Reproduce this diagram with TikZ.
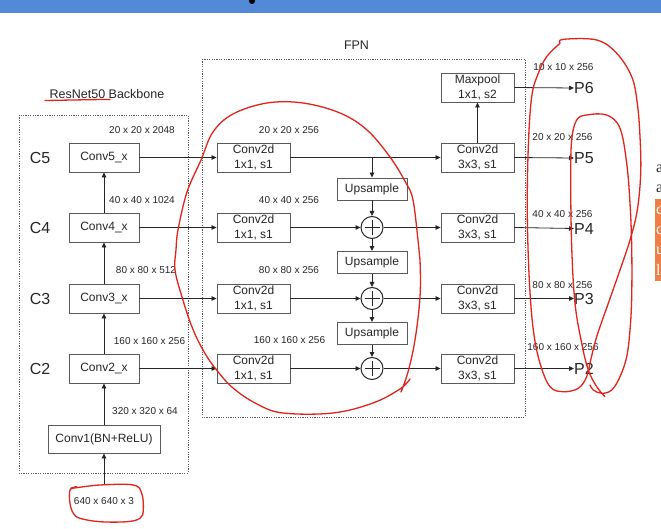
\documentclass[tikz,border=0pt]{standalone}
\usepackage{fontspec}
\setmainfont{Liberation Sans}
\newfontfamily\serifface{Liberation Serif}
\usetikzlibrary{arrows.meta}

\definecolor{barblue}{HTML}{528AD8}
\definecolor{ink}{HTML}{262626}
\definecolor{edge}{HTML}{5A5A5A}
\definecolor{penred}{HTML}{E3231C}
\definecolor{tagorange}{HTML}{EE8047}

\begin{document}
\begin{tikzpicture}[x=1pt,y=-1pt,
  box/.style={draw=edge, line width=0.9pt, fill=white, text=ink,
    font=\fontsize{12}{15}\selectfont, align=center, inner sep=0pt},
  convbox/.style={box, minimum width=70pt, minimum height=29pt},
  fpnbox/.style={box, minimum width=73pt, minimum height=29pt},
  upbox/.style={box, minimum width=70pt, minimum height=22pt},
  sumnode/.style={draw=ink, line width=1pt, circle, minimum size=22pt,
    inner sep=0pt, fill=white,
    path picture={
      \draw[ink, line width=1pt]
        ([yshift=-7.5pt]path picture bounding box.center) -- ([yshift=7.5pt]path picture bounding box.center)
        ([xshift=-7.5pt]path picture bounding box.center) -- ([xshift=7.5pt]path picture bounding box.center);}},
  dim/.style={text=ink, font=\fontsize{10}{12}\selectfont, inner sep=0pt},
  lvl/.style={text=ink, font=\fontsize{16}{18}\selectfont, inner sep=0pt},
  heading/.style={text=ink, font=\fontsize{12.5}{15}\selectfont, inner sep=0pt},
  flow/.style={draw=ink, line width=0.8pt, -{Triangle[length=5pt,width=4.5pt]}},
  frame/.style={draw=edge, line width=0.8pt, dash pattern=on 1.2pt off 1.2pt},
  markup/.style={draw=penred, line width=1.3pt, line cap=round, line join=round},
]
\useasboundingbox (0,0) rectangle (661,529);
\fill[white] (0,0) rectangle (661,529);

% window title bar
\fill[barblue] (0,0) rectangle (661,13);
\fill[black] (252,1) circle (3);

% group frames
\draw[frame] (19,115) rectangle (188,473);
\draw[frame] (202,59) rectangle (525,417);
\node[heading] (bbtitle) at (107,94) {ResNet50 Backbone};
\node[heading] (fpntitle) at (356.5,45) {FPN};

% backbone
\node[convbox] (c5) at (104,157.5) {Conv5\_x};
\node[convbox] (c4) at (104,227.5) {Conv4\_x};
\node[convbox] (c3) at (104,298.5) {Conv3\_x};
\node[convbox] (c2) at (104,368.5) {Conv2\_x};
\node[box, minimum width=112pt, minimum height=28pt] (c1) at (104,439) {Conv1(BN+ReLU)};
\node[dim] (inp) at (104,501) {640 x 640 x 3};
\coordinate (inpTop) at (104,484);

\node[lvl] (C5) at (40,157.5) {C5};
\node[lvl] (C4) at (40,227.5) {C4};
\node[lvl] (C3) at (40,298.5) {C3};
\node[lvl] (C2) at (40,368.5) {C2};

\node[dim] at (142,130) {20 x 20 x 2048};
\node[dim] at (142,200) {40 x 40 x 1024};
\node[dim] at (146,270) {80 x 80 x 512};
\node[dim] at (149.5,341) {160 x 160 x 256};
\node[dim] at (145,411) {320 x 320 x 64};

% lateral 1x1 convolutions
\node[fpnbox] (l5) at (253.5,157.5) {Conv2d\\1x1, s1};
\node[fpnbox] (l4) at (253.5,227.5) {Conv2d\\1x1, s1};
\node[fpnbox] (l3) at (253.5,298.5) {Conv2d\\1x1, s1};
\node[fpnbox] (l2) at (253.5,368.5) {Conv2d\\1x1, s1};

\node[dim] at (289,130) {20 x 20 x 256};
\node[dim] at (289,200) {40 x 40 x 256};
\node[dim] at (289,270) {80 x 80 x 256};
\node[dim] at (289.5,340) {160 x 160 x 256};

% top-down path
\node[upbox] (u4) at (372,189) {Upsample};
\node[upbox] (u3) at (372,262.5) {Upsample};
\node[upbox] (u2) at (372,333.5) {Upsample};
\node[sumnode] (s4) at (372,227.5) {};
\node[sumnode] (s3) at (372,298.5) {};
\node[sumnode] (s2) at (372,368.5) {};

% output 3x3 convolutions
\node[fpnbox] (o5) at (477.5,157.5) {Conv2d\\3x3, s1};
\node[fpnbox] (o4) at (477.5,227.5) {Conv2d\\3x3, s1};
\node[fpnbox] (o3) at (477.5,298.5) {Conv2d\\3x3, s1};
\node[fpnbox] (o2) at (477.5,368.5) {Conv2d\\3x3, s1};
\node[fpnbox] (mp) at (477.5,87.5) {Maxpool\\1x1, s2};

% pyramid levels
\node[lvl, anchor=west] (p6) at (574,88) {P6};
\node[lvl, anchor=west] (p5) at (574,158) {P5};
\node[lvl, anchor=west] (p4) at (574,228.5) {P4};
\node[lvl, anchor=west] (p3) at (574,298.5) {P3};
\node[lvl, anchor=west] (p2) at (574,368.5) {P2};

\node[dim] at (563.5,67) {10 x 10 x 256};
\node[dim] at (562.5,137.5) {20 x 20 x 256};
\node[dim] at (562.5,214) {40 x 40 x 256};
\node[dim] at (562.5,285) {80 x 80 x 256};
\node[dim] at (563,347) {160 x 160 x 256};

% backbone connectors
\draw[flow] (inpTop) -- (c1.south);
\draw[flow] (c1.north) -- (c2.south);
\draw[flow] (c2.north) -- (c3.south);
\draw[flow] (c3.north) -- (c4.south);
\draw[flow] (c4.north) -- (c5.south);
\draw[flow] (c5.east) -- (l5.west);
\draw[flow] (c4.east) -- (l4.west);
\draw[flow] (c3.east) -- (l3.west);
\draw[flow] (c2.east) -- (l2.west);

% FPN connectors
\draw[flow] (l5.east) -- (o5.west);
\draw[flow] (u4.north |- l5.east) -- (u4.north);
\draw[flow] (u4.south) -- (s4.north);
\draw[flow] (s4.south) -- (u3.north);
\draw[flow] (u3.south) -- (s3.north);
\draw[flow] (s3.south) -- (u2.north);
\draw[flow] (u2.south) -- (s2.north);
\draw[flow] (l4.east) -- (s4.west);
\draw[flow] (l3.east) -- (s3.west);
\draw[flow] (l2.east) -- (s2.west);
\draw[flow] (s4.east) -- (o4.west);
\draw[flow] (s3.east) -- (o3.west);
\draw[flow] (s2.east) -- (o2.west);
\draw[flow] (o5.north) -- (mp.south);
\draw[flow] (mp.east) -- (p6.west);
\draw[flow] (o5.east) -- (p5.west);
\draw[flow] (o4.east) -- (p4.west);
\draw[flow] (o3.east) -- (p3.west);
\draw[flow] (o2.east) -- (p2.west);

% hand-drawn pen marks
\draw[markup] (45,100.5) .. controls (75,100) and (95,99.5) .. (110,99.5);
\draw[markup] plot[smooth, tension=0.6] coordinates {
  (76.7,486.7) (71.7,488.3) (100,485) (133.3,485) (141.7,493.3) (143.3,510)
  (140,518.3) (126.7,521.7) (100,521.7) (80,518.3) (73.3,513.3) (70,503.3) (70,490) (76.7,486.7)};
\draw[markup] plot[smooth, tension=0.6] coordinates {
  (410,379) (400,389) (373,403) (333,413) (283,413) (257,404) (233,388) (215,368)
  (203,350) (192,327) (182,297) (175,270) (176,250) (178,230) (187,192) (201,160)
  (213,132) (233,114) (267,103) (303,103) (340,113) (367,130) (390,157) (406,183)
  (413,200) (418,240) (420,260) (420,297) (415,340) (408,372) (401,392)};
\draw[markup] plot[smooth, tension=0.6] coordinates {
  (560,43.3) (563.3,39.3) (596.7,40) (616.7,53.3) (631.7,76.7) (637.3,103.3)
  (640,136.7) (640.7,173.3) (637.3,210) (630,240) (620,270) (608.3,303.3)
  (596.7,336.7) (590.7,360) (586.7,376.7) (578.3,388.3) (563.3,391.7) (550,386.7)
  (540,363.3) (533.3,330) (529.3,280) (527.3,213.3) (528.3,146.7) (531.7,96.7)
  (538.3,73.3) (546.7,56.7) (560,43.3)};
\draw[markup] plot[smooth, tension=0.6] coordinates {
  (605,396.7) (596.7,386.7) (588.3,370) (581.7,343.3) (575,303.3) (571.7,246.7)
  (570.7,180) (571.7,140) (576.7,120) (586.7,115) (606.7,115) (620,128.3)
  (626.7,163.3) (630,203.3) (631.7,246.7) (631.7,296.7) (630,330) (626.7,356.7)
  (620,376.7) (611.7,390) (601.7,393.3) (593.3,390) (590,385)};

% neighbouring page content at the right edge
\node[anchor=west, inner sep=0pt, text=ink, font=\serifface\fontsize{16}{18}\selectfont] at (656,169) {a};
\node[anchor=west, inner sep=0pt, text=ink, font=\serifface\fontsize{16}{18}\selectfont] at (656,189) {a};
\fill[tagorange] (655,199) rectangle (670,281);
\node[anchor=west, inner sep=0pt, text=white, font=\serifface\fontsize{16}{18}\selectfont] at (656,211) {c};
\node[anchor=west, inner sep=0pt, text=white, font=\serifface\fontsize{16}{18}\selectfont] at (656,231) {c};
\node[anchor=west, inner sep=0pt, text=white, font=\serifface\fontsize{16}{18}\selectfont] at (656,251) {u};
\node[anchor=west, inner sep=0pt, text=white, font=\serifface\fontsize{16}{18}\selectfont] at (656,270) {l};
\end{tikzpicture}
\end{document}
